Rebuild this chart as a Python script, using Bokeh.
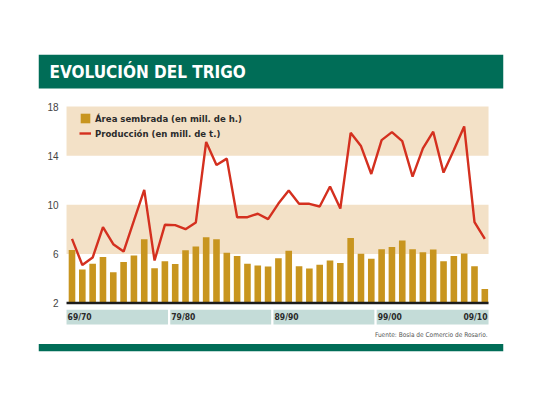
from bokeh.plotting import figure
from bokeh.models import (Range1d, FixedTicker, BoxAnnotation, Legend, LegendItem,
                          ColumnDataSource, Label)
from bokeh.core.properties import value
from bokeh.embed import file_html
from bokeh.resources import INLINE

# ---------------- data ----------------
first_year = 69
n_seasons = 41
seasons = [f"{(first_year + i) % 100:02d}/{(first_year + i + 1) % 100:02d}" for i in range(n_seasons)]

area = [6.32, 4.72, 5.20, 5.75, 4.50, 5.33, 5.86, 7.20, 4.84, 5.40,
        5.18, 6.30, 6.60, 7.36, 7.20, 6.10, 5.82, 5.20, 5.06, 4.97,
        5.65, 6.25, 5.00, 4.80, 5.12, 5.46, 5.26, 7.30, 6.02, 5.60,
        6.38, 6.56, 7.10, 6.38, 6.14, 6.35, 5.40, 5.82, 6.03, 5.00, 3.15]

production = [7.22, 5.10, 5.70, 8.18, 6.79, 6.19, 8.70, 11.22, 5.46, 8.37,
              8.34, 8.01, 8.56, 15.12, 13.24, 13.76, 8.99, 8.99, 9.27, 8.83,
              10.10, 11.16, 10.08, 10.08, 9.86, 11.49, 9.70, 15.86, 14.78, 12.51,
              15.27, 15.92, 15.19, 12.30, 14.59, 15.95, 12.62, 14.46, 16.38, 8.59, 7.22]

y_ticks = [2, 6, 10, 14, 18]
decade_labels = ["69/70", "79/80", "89/90", "99/00", "09/10"]
decade_index = [0, 10, 20, 30, 40]

title_text = "EVOLUCIÓN DEL TRIGO"
legend_area = "Área sembrada (en mill. de h.)"
legend_prod = "Producción (en mill. de t.)"
source_text = "Fuente: Bosla de Comercio de Rosario."

# ---------------- style ----------------
GREEN = "#006d57"
GOLD = "#c8951f"
RED = "#d4301f"
BEIGE = "#f3e1c7"
TEAL = "#c4dcd8"
DARK = "#2b2b2b"
COND = "DejaVu Sans Condensed"

p = figure(width=524, height=388, output_backend="svg", toolbar_location=None,
           x_axis_location=None, y_axis_location="left",
           x_range=Range1d(-3.246, 41.81), y_range=Range1d(-1.95, 22.24),
           min_border_left=38, min_border_right=21, min_border_top=54, min_border_bottom=37)
p.outline_line_color = None
p.background_fill_color = "white"
p.border_fill_color = "white"
p.xgrid.visible = False
p.ygrid.visible = False

# header & footer bars
p.add_layout(BoxAnnotation(bottom=19.47, fill_color=GREEN, fill_alpha=1, line_color=None))
p.add_layout(BoxAnnotation(top=-1.34, fill_color=GREEN, fill_alpha=1, line_color=None))

# background bands
x_left, x_right = -0.53, 40.36
for lo, hi in [(14, 18), (6, 10)]:
    p.add_layout(BoxAnnotation(left=x_left, right=x_right, bottom=lo, top=hi,
                               fill_color=BEIGE, fill_alpha=1, line_color=None, level="underlay"))

src = ColumnDataSource(dict(x=list(range(n_seasons)), season=seasons, area=area, prod=production))
bars = p.vbar(x="x", top="area", bottom=2, width=0.64, source=src, fill_color=GOLD, line_color=None)
p.segment(x0=[x_left], x1=[x_right], y0=[2], y1=[2], line_color="#1c1c1c", line_width=2.5)
line = p.line(x="x", y="prod", source=src, line_color=RED, line_width=2.4)

# decade label strip
seg_left = [d - 0.48 for d in decade_index[:4]]
seg_left[0] = x_left
seg_right = [d - 0.7 for d in decade_index[1:4]] + [x_right]
p.quad(left=seg_left, right=seg_right, bottom=0.25, top=1.45, fill_color=TEAL, line_color=None)
p.text(x=[l + 0.1 for l in seg_left], y=[0.85] * 4, text=decade_labels[:4],
       text_font=value(COND), text_font_style="bold", text_font_size="8.5px",
       text_color=DARK, text_align="left", text_baseline="middle")
p.text(x=[x_right - 0.1], y=[0.85], text=decade_labels[4:],
       text_font=value(COND), text_font_style="bold", text_font_size="8.5px",
       text_color=DARK, text_align="right", text_baseline="middle")

# title & source
p.add_layout(Label(x=-2.18, y=20.85, text=title_text, text_font=COND,
                   text_font_style="bold", text_font_size="17px", text_color="white",
                   text_baseline="middle", text_align="left"))
p.add_layout(Label(x=x_right - 0.1, y=-0.57, text=source_text, text_font=COND,
                   text_font_size="6.5px", text_color="#555555",
                   text_baseline="middle", text_align="right"))

# y axis
ax = p.yaxis[0]
ax.ticker = FixedTicker(ticks=y_ticks)
ax.fixed_location = x_left
ax.axis_line_color = None
ax.major_tick_line_color = None
ax.minor_tick_line_color = None
ax.major_tick_out = 0
ax.major_tick_in = 0
ax.major_label_standoff = 8
ax.major_label_text_font = "Liberation Sans"
ax.major_label_text_font_size = "10px"
ax.major_label_text_color = "#444444"

# legend
legend = Legend(items=[LegendItem(label=legend_area, renderers=[bars]),
                       LegendItem(label=legend_prod, renderers=[line])],
                location=(41, 212), background_fill_alpha=0, border_line_color=None,
                padding=0, margin=0, spacing=3, glyph_width=12, glyph_height=12,
                label_standoff=4, label_height=12,
                label_text_font=COND, label_text_font_style="bold",
                label_text_font_size="9.5px", label_text_color=DARK)
p.add_layout(legend)

open("out.html", "w").write(file_html(p, INLINE))
